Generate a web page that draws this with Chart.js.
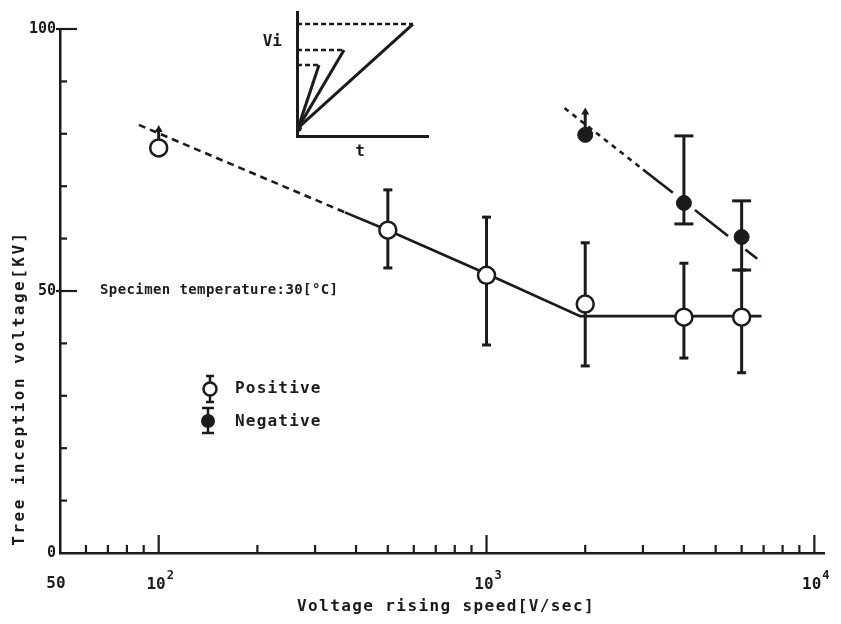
<!DOCTYPE html>
<html>
<head>
<meta charset="utf-8">
<script src="https://cdn.jsdelivr.net/npm/chart.js@4.4.1/dist/chart.umd.min.js"></script>
<style>
  html, body { margin: 0; padding: 0; background: #fff; }
  #wrap { position: relative; width: 841px; height: 624px; }
  #main { position: absolute; left: 0; top: 0; }
  #inset { position: absolute; left: 250px; top: 0; }
</style>
</head>
<body>
<div id="wrap">
  <canvas id="main" width="841" height="624"></canvas>
  <canvas id="inset" width="200" height="175"></canvas>
</div>
<script>
// Tree inception voltage vs. voltage rising speed, with ramp sketch inset.
const INK = "#1b1b1b";
const FONT = "'DejaVu Sans Mono', 'Liberation Mono', monospace";

// positive polarity (open circles)
const POS_X = [100, 500, 1000, 2000, 4000, 6000];
const POS_Y = [77.3, 61.6, 53, 47.5, 45, 45];
const POS_LO = [null, 54.4, 39.7, 35.7, 37.2, 34.4];
const POS_HI = [null, 69.3, 64.1, 59.2, 55.3, 54];
const POS_ARROW = [81.7, null, null, null, null, null];

// negative polarity (filled circles)
const NEG_X = [2000, 4000, 6000];
const NEG_Y = [79.8, 66.8, 60.3];
const NEG_LO = [null, 62.8, 54];
const NEG_HI = [null, 79.6, 67.2];
const NEG_ARROW = [85, null, null];

// fitted curves
const POS_FIT_X = [87, 370, 500, 1000, 1930, 6900];
const POS_FIT_Y = [81.7, 65, 61.6, 53.3, 45.2, 45.2];
const NEG_FIT_X = [1730, 3000, 7000];
const NEG_FIT_Y = [84.9, 73.2, 55.2];

// axes
const X_TICKS = [50, 100, 1000, 10000];
const X_TICK_BASE = ["50", "10", "10", "10"];
const X_TICK_EXP = ["", "2", "3", "4"];
const X_MAJOR = [100, 1000, 10000];
const X_MINOR = [60, 70, 80, 90, 200, 300, 400, 500, 600, 700, 800, 900,
                 2000, 3000, 4000, 5000, 6000, 7000, 8000, 9000];
const Y_TICKS = [0, 50, 100];
const Y_TICK_LABELS = ["0", "50", "100"];
const Y_MAJOR = [50, 100];
const Y_MINOR = [10, 20, 30, 40, 60, 70, 80, 90];

// inset: ramps of different speed reaching Vi
const INSET_ORIGIN = [0.008, 0.065];
const INSET_END_X = [0.885, 0.359, 0.168];
const INSET_END_Y = [0.903, 0.694, 0.573];

const pts = (xs, ys) => xs.map((v, i) => ({ x: v, y: ys[i] }));

function seg(ctx, x1, y1, x2, y2) {
  ctx.beginPath(); ctx.moveTo(x1, y1); ctx.lineTo(x2, y2); ctx.stroke();
}

function spacedText(ctx, str, x, y, spacing) {
  ctx.letterSpacing = spacing + "px";
  ctx.fillText(str, x, y);
  ctx.letterSpacing = "0px";
}

// error bars and lower-bound arrows, drawn under the markers
function drawBars(chart, xs, ys, lo, hi, arrow, capW) {
  const { ctx, scales: { x, y } } = chart;
  xs.forEach((v, i) => {
    const px = x.getPixelForValue(v);
    if (lo[i] != null) {
      const a = y.getPixelForValue(lo[i]), b = y.getPixelForValue(hi[i]);
      seg(ctx, px, a, px, b);
      seg(ctx, px - capW / 2, a, px + capW / 2, a);
      seg(ctx, px - capW / 2, b, px + capW / 2, b);
    }
    if (arrow[i] != null) {
      const p0 = y.getPixelForValue(ys[i]), tip = y.getPixelForValue(arrow[i]);
      seg(ctx, px, p0, px, tip + 4);
      ctx.beginPath();
      ctx.moveTo(px, tip); ctx.lineTo(px - 4, tip + 7); ctx.lineTo(px + 4, tip + 7);
      ctx.closePath(); ctx.fill();
    }
  });
}

const barsPlugin = {
  id: "bars",
  beforeDatasetsDraw(chart) {
    const ctx = chart.ctx;
    ctx.save();
    ctx.strokeStyle = INK; ctx.fillStyle = INK; ctx.lineWidth = 3;
    drawBars(chart, POS_X, POS_Y, POS_LO, POS_HI, POS_ARROW, 9);
    drawBars(chart, NEG_X, NEG_Y, NEG_LO, NEG_HI, NEG_ARROW, 19);
    ctx.restore();
  }
};

const decorPlugin = {
  id: "decor",
  afterDraw(chart) {
    const { ctx, chartArea: ca, scales: { x, y } } = chart;
    ctx.save();
    ctx.strokeStyle = INK; ctx.fillStyle = INK; ctx.lineWidth = 2.2;
    // tick marks point into the plot
    Y_MINOR.forEach(v => { const py = y.getPixelForValue(v); seg(ctx, ca.left, py, ca.left + 7, py); });
    Y_MAJOR.forEach(v => { const py = y.getPixelForValue(v); seg(ctx, ca.left - 4, py, ca.left + 17, py); });
    X_MINOR.forEach(v => { const px = x.getPixelForValue(v); seg(ctx, px, ca.bottom, px, ca.bottom - 8); });
    X_MAJOR.forEach(v => { const px = x.getPixelForValue(v); seg(ctx, px, ca.bottom, px, ca.bottom - 18); });

    // x tick labels with raised exponents
    ctx.textBaseline = "middle";
    X_TICKS.forEach((v, i) => {
      const px = x.getPixelForValue(v);
      ctx.font = "bold 16px " + FONT;
      if (!X_TICK_EXP[i]) {
        ctx.textAlign = "center";
        ctx.fillText(X_TICK_BASE[i], px - 4, 584);
        return;
      }
      ctx.textAlign = "right";
      ctx.fillText(X_TICK_BASE[i], px + 7, 585);
      ctx.textAlign = "left";
      ctx.font = "bold 12px " + FONT;
      ctx.fillText(X_TICK_EXP[i], px + 8, 576);
    });

    // axis titles
    ctx.textAlign = "center";
    ctx.font = "bold 16px " + FONT;
    spacedText(ctx, "Voltage rising speed[V/sec]", 446, 607, 1.4);
    ctx.save();
    ctx.translate(20, 388); ctx.rotate(-Math.PI / 2);
    spacedText(ctx, "Tree inception voltage[KV]", 0, 0, 2.5);
    ctx.restore();

    // annotation
    ctx.textAlign = "left";
    ctx.font = "bold 14px " + FONT;
    spacedText(ctx, "Specimen temperature:30[°C]", 100, 290, 0.4);

    // legend
    ctx.lineWidth = 2.5;
    seg(ctx, 210, 376, 210, 402); seg(ctx, 206, 376, 214, 376); seg(ctx, 206, 402, 214, 402);
    ctx.beginPath(); ctx.arc(210, 389, 6.5, 0, Math.PI * 2);
    ctx.fillStyle = "#fff"; ctx.fill(); ctx.stroke();
    ctx.fillStyle = INK;
    seg(ctx, 208, 408, 208, 433); seg(ctx, 202, 408, 214, 408); seg(ctx, 202, 433, 214, 433);
    ctx.beginPath(); ctx.arc(208, 421, 7, 0, Math.PI * 2); ctx.fill();
    ctx.font = "bold 16px " + FONT;
    spacedText(ctx, "Positive", 235, 389, 1.2);
    spacedText(ctx, "Negative", 235, 422, 1.2);
    ctx.restore();
  }
};

new Chart(document.getElementById("main"), {
  type: "scatter",
  data: {
    datasets: [
      {
        label: "Positive", data: pts(POS_X, POS_Y), order: 0,
        pointRadius: 8.5, pointBorderWidth: 2.5,
        pointBackgroundColor: "#fff", pointBorderColor: INK
      },
      {
        label: "Negative", data: pts(NEG_X, NEG_Y), order: 0,
        pointRadius: 7.5, pointBorderWidth: 1,
        pointBackgroundColor: INK, pointBorderColor: INK
      },
      {
        label: "Positive fit", data: pts(POS_FIT_X, POS_FIT_Y), order: 1,
        showLine: true, pointRadius: 0, borderColor: INK, borderWidth: 2.6,
        segment: { borderDash: c => (c.p0DataIndex === 0 ? [7, 5] : []) }
      },
      {
        label: "Negative fit", data: pts(NEG_FIT_X, NEG_FIT_Y), order: 1,
        showLine: true, pointRadius: 0, borderColor: INK, borderWidth: 2.6,
        segment: { borderDash: c => (c.p0DataIndex === 0 ? [5, 5] : [38, 28, 42, 22, 15, 8, 2, 20]) }
      }
    ]
  },
  options: {
    responsive: false,
    devicePixelRatio: 1,
    animation: false,
    layout: { padding: { top: 29, right: 17, left: 0, bottom: 0 } },
    plugins: { legend: { display: false }, tooltip: { enabled: false } },
    scales: {
      x: {
        type: "logarithmic", min: 50, max: 10700,
        grid: { display: false, drawTicks: false },
        border: { display: true, color: INK, width: 2.5 },
        afterBuildTicks: s => { s.ticks = X_TICKS.map(v => ({ value: v })); },
        afterFit: s => { s.height = 71; },
        ticks: { display: false }
      },
      y: {
        min: 0, max: 100,
        grid: { display: false, drawTicks: false },
        border: { display: true, color: INK, width: 2.5 },
        afterBuildTicks: s => { s.ticks = Y_TICKS.map(v => ({ value: v })); },
        afterFit: s => { s.width = 60; },
        ticks: {
          autoSkip: false, padding: 4, color: INK,
          font: { family: FONT, size: 15, weight: "bold" },
          callback: (v, i) => Y_TICK_LABELS[i]
        }
      }
    }
  },
  plugins: [barsPlugin, decorPlugin]
});

// inset sketch
const insetLabels = {
  id: "insetLabels",
  afterDraw(chart) {
    const { ctx, chartArea: ca } = chart;
    ctx.save();
    ctx.fillStyle = INK;
    ctx.font = "bold 16px " + FONT;
    ctx.textBaseline = "middle";
    ctx.textAlign = "right";
    ctx.fillText("Vi", ca.left - 15, 42);
    ctx.textAlign = "center";
    ctx.fillText("t", ca.left + 63, 152);
    ctx.restore();
  }
};

const rampSets = INSET_END_X.map((ex, i) => ({
  data: [{ x: INSET_ORIGIN[0], y: INSET_ORIGIN[1] }, { x: ex, y: INSET_END_Y[i] }],
  showLine: true, borderColor: INK, borderWidth: 3, pointRadius: [3.5, 0],
  pointBackgroundColor: INK, pointBorderWidth: 0
}));
const levelSets = INSET_END_X.map((ex, i) => ({
  data: [{ x: 0, y: INSET_END_Y[i] }, { x: ex, y: INSET_END_Y[i] }],
  showLine: true, borderColor: INK, borderWidth: 2.4, borderDash: [5, 3], pointRadius: 0
}));

new Chart(document.getElementById("inset"), {
  type: "scatter",
  data: { datasets: rampSets.concat(levelSets) },
  options: {
    responsive: false,
    devicePixelRatio: 1,
    animation: false,
    layout: { padding: { top: 12, right: 22, left: 0, bottom: 0 } },
    plugins: { legend: { display: false }, tooltip: { enabled: false } },
    scales: {
      x: {
        min: 0, max: 1,
        grid: { display: false, drawTicks: false },
        border: { display: true, color: INK, width: 3 },
        ticks: { display: false },
        afterFit: s => { s.height = 39; }
      },
      y: {
        min: 0, max: 1,
        grid: { display: false, drawTicks: false },
        border: { display: true, color: INK, width: 3 },
        ticks: { display: false },
        afterFit: s => { s.width = 47; }
      }
    }
  },
  plugins: [insetLabels]
});
</script>
</body>
</html>
